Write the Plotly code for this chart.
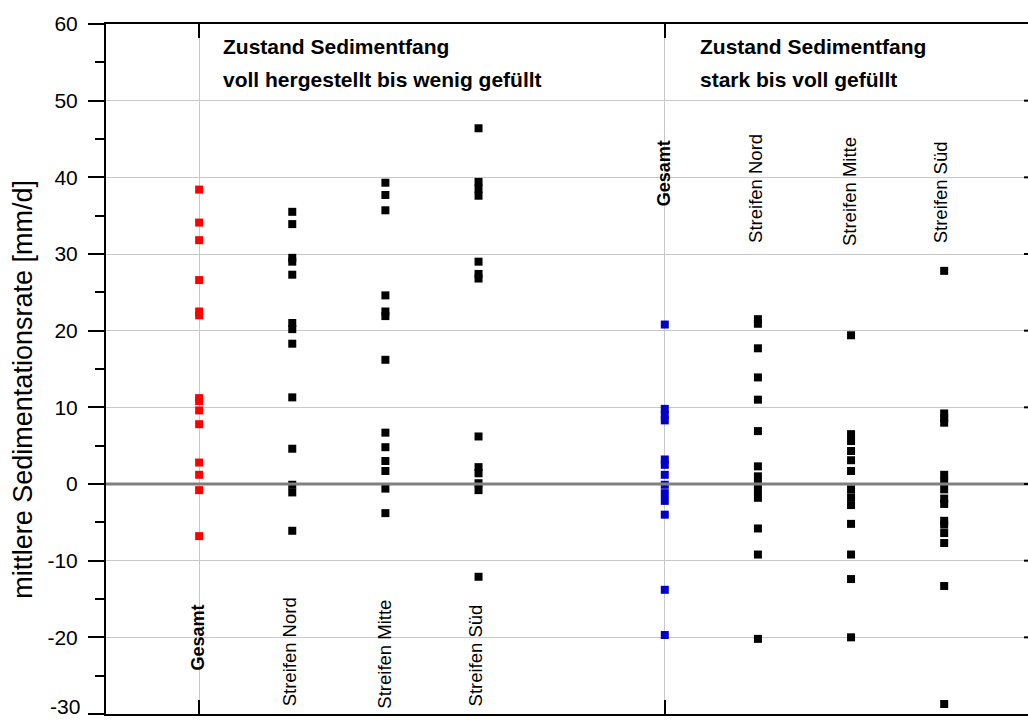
import plotly.graph_objects as go

# Sedimentation rates (mm/d) per measuring strip, grouped by trap condition
categories = ["Gesamt", "Streifen Nord", "Streifen Mitte", "Streifen Süd"]

# Condition: freshly built to slightly filled
gesamt_wenig = [38.4, 34.1, 31.8, 26.6, 22.5, 22.0, 11.2, 10.8, 9.6, 7.8, 2.8, 1.2, -0.8, -6.8]
nord_wenig = [35.5, 33.9, 29.5, 29.0, 27.3, 21.0, 20.2, 18.3, 11.3, 4.6, -0.1, -1.1, -6.1]
mitte_wenig = [39.3, 37.7, 35.7, 24.6, 22.5, 21.9, 16.2, 6.7, 4.8, 3.0, 1.7, -0.6, -3.8]
sued_wenig = [46.4, 39.4, 38.5, 37.6, 29.0, 27.4, 26.8, 6.2, 2.2, 1.4, 0.1, -0.8, -12.1]

# Condition: heavily to completely filled
gesamt_voll = [20.8, 9.8, 9.0, 8.3, 3.2, 2.5, 1.2, -0.1, -1.2, -2.2, -4.0, -13.8, -19.7]
nord_voll = [21.5, 20.9, 17.7, 13.9, 11.0, 6.9, 2.3, 1.0, 0.0, -0.9, -1.8, -5.8, -9.2, -20.2]
mitte_voll = [19.4, 6.5, 5.6, 4.3, 3.1, 1.7, -0.7, -1.75, -2.75, -5.2, -9.2, -12.4, -20.0]
sued_voll = [27.8, 9.2, 8.6, 8.0, 1.2, 0.3, -0.7, -1.9, -2.6, -4.8, -5.3, -6.4, -7.7, -13.3, -28.7]

# Y axis ticks
y_tickvals = [-30, -20, -10, 0, 10, 20, 30, 40, 50, 60]
y_ticktext = ["-30", "-20", "-10", "0", "10", "20", "30", "40", "50", "60"]

group_headers = [
    ["Zustand Sedimentfang", "voll hergestellt bis wenig gefüllt"],
    ["Zustand Sedimentfang", "stark bis voll gefüllt"],
]

y_title = "mittlere Sedimentationsrate [mm/d]"

RED = "#ff0000"
BLUE = "#0000c8"
BLACK = "#000000"
FONT = "Liberation Sans, Arial, sans-serif"

pos_wenig = [1, 2, 3, 4]
pos_voll = [6, 7, 8, 9]

series = [
    (pos_wenig[0], gesamt_wenig, RED),
    (pos_wenig[1], nord_wenig, BLACK),
    (pos_wenig[2], mitte_wenig, BLACK),
    (pos_wenig[3], sued_wenig, BLACK),
    (pos_voll[0], gesamt_voll, BLUE),
    (pos_voll[1], nord_voll, BLACK),
    (pos_voll[2], mitte_voll, BLACK),
    (pos_voll[3], sued_voll, BLACK),
]

fig = go.Figure()
for xpos, vals, col in series:
    fig.add_trace(go.Scatter(
        x=[xpos] * len(vals), y=vals, mode="markers",
        marker=dict(symbol="square", size=8, color=col, line=dict(width=0)),
        showlegend=False, hoverinfo="y",
    ))

annotations = []

# Category labels, written vertically next to each column
label_y_wenig = [-20.0, -21.9, -22.2, -22.4]
label_y_voll = [40.5, 38.5, 38.1, 38.1]
label_dx = [-0.01, -0.02, -0.01, -0.03]
for i, name in enumerate(categories):
    bold = i == 0
    for xs, ys in ((pos_wenig, label_y_wenig), (pos_voll, label_y_voll)):
        annotations.append(dict(
            x=xs[i] + label_dx[i], y=ys[i], xref="x", yref="y",
            text=f"<b>{name}</b>" if bold else name,
            textangle=-90, showarrow=False,
            xanchor="center", yanchor="middle",
            font=dict(family=FONT, size=18 if bold else 18.5, color=BLACK),
        ))

# Group headers
header_x = [1.235, 6.357]
header_y = [57.1, 52.7]
for gx, lines in zip(header_x, group_headers):
    for gy, line in zip(header_y, lines):
        annotations.append(dict(
            x=gx, y=gy, xref="x", yref="y", text=f"<b>{line}</b>",
            showarrow=False, xanchor="left", yanchor="middle",
            font=dict(family=FONT, size=21, color=BLACK),
        ))

# Y axis title
annotations.append(dict(
    x=-0.09, y=12.3, xref="paper", yref="y", text=y_title,
    textangle=-90, showarrow=False, xanchor="center", yanchor="middle",
    font=dict(family=FONT, size=27, color=BLACK),
))

# The lowest tick label sits on the figure edge, where the axis would drop it;
# keep its box inside the page
annotations.append(dict(
    x=-25 / 922, y=y_tickvals[0], xref="paper", yref="y", text=y_ticktext[0],
    showarrow=False, xanchor="right", yanchor="bottom", yshift=-5,
    borderpad=0,
    font=dict(family=FONT, size=21, color=BLACK),
))
axis_ticktext = [""] + y_ticktext[1:]

shapes = []
# zero reference line drawn over the markers
shapes.append(dict(type="line", xref="paper", yref="y", x0=0, x1=1, y0=0, y1=0,
                   line=dict(color="#808080", width=3), layer="above"))
# short inward ticks along the right border
for v in y_tickvals[1:-1]:
    shapes.append(dict(type="line", xref="paper", yref="y", x0=1 - 4 / 922, x1=1,
                       y0=v, y1=v, line=dict(color=BLACK, width=2), layer="above"))

fig.update_layout(
    width=1028, height=720,
    margin=dict(l=106, r=0, t=24, b=6),
    paper_bgcolor="white", plot_bgcolor="white",
    font=dict(family=FONT, color=BLACK),
    annotations=annotations, shapes=shapes,
    xaxis=dict(
        range=[0, 9.9], tickvals=[pos_wenig[0], pos_voll[0]],
        ticks="inside", ticklen=14, tickwidth=2, tickcolor=BLACK,
        showticklabels=False, showgrid=True, gridcolor="#c8c8c8", gridwidth=1,
        showline=True, linewidth=2, linecolor=BLACK, mirror="ticks",
        zeroline=False,
    ),
    yaxis=dict(
        range=[-30.0001, 60], tickmode="array",
        tickvals=y_tickvals, ticktext=axis_ticktext,
        ticks="outside", ticklen=16, tickwidth=2, tickcolor=BLACK,
        tickfont=dict(family=FONT, size=21, color=BLACK),
        ticklabelstandoff=6,
        showgrid=True, gridcolor="#c8c8c8", gridwidth=1,
        showline=True, linewidth=2, linecolor=BLACK, mirror=False,
        zeroline=False,
        minor=dict(tickvals=[-25, -15, -5, 5, 15, 25, 35, 45, 55],
                   ticks="outside", ticklen=9, tickwidth=2,
                   tickcolor=BLACK, showgrid=False),
    ),
)

fig.write_html("out.html")
